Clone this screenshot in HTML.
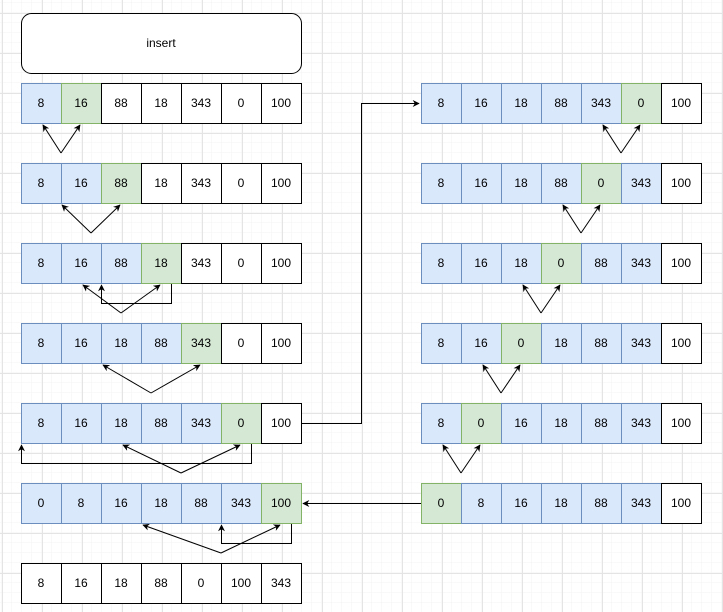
<!DOCTYPE html>
<html><head><meta charset="utf-8"><style>
html,body{margin:0;padding:0;background:#fff;}
svg{display:block;}
text{font-family:"Liberation Sans",Arial,sans-serif;font-size:12px;fill:#000;}
</style></head><body>
<svg width="723" height="612" viewBox="0 0 723 612" xmlns="http://www.w3.org/2000/svg">
<defs>
<pattern id="g1" x="2" y="3" width="10" height="10" patternUnits="userSpaceOnUse"><path d="M10 0V10M0 10H10" stroke="#f3f3f3" stroke-width="1" fill="none"/></pattern>
<pattern id="g2" x="2" y="13" width="40" height="40" patternUnits="userSpaceOnUse"><path d="M0.5 0V40M0 0.5H40" stroke="#e4e4e4" stroke-width="1" fill="none"/></pattern>
<marker id="a" viewBox="0 0 10 10" refX="9" refY="5" markerWidth="7" markerHeight="7" orient="auto"><path d="M0 0L10 5L0 10L3 5Z" fill="#000"/></marker>
</defs>
<rect width="723" height="612" fill="url(#g1)"/>
<rect width="723" height="612" fill="url(#g2)"/>
<rect x="21.5" y="13.5" width="280" height="60" rx="10" fill="#fff" stroke="#000"/>
<text x="161" y="47" text-anchor="middle">insert</text>
<g id="cells" stroke-width="1"></g>
<g fill="none" stroke="#000" stroke-width="1">
<!-- left -->
<path d="M61 153L43 125" marker-end="url(#a)"/><path d="M61 153L80 125" marker-end="url(#a)"/>
<path d="M91 233L62 205" marker-end="url(#a)"/><path d="M91 233L120 205" marker-end="url(#a)"/>
<path d="M121 313L83 285" marker-end="url(#a)"/><path d="M121 313L160 285" marker-end="url(#a)"/>
<path d="M171.5 283V303.5H101.5V285" marker-end="url(#a)"/>
<path d="M151 393L103 365" marker-end="url(#a)"/><path d="M151 393L200 365" marker-end="url(#a)"/>
<path d="M181 473L123 445" marker-end="url(#a)"/><path d="M181 473L240 445" marker-end="url(#a)"/>
<path d="M251.5 443V463.5H21.5V445" marker-end="url(#a)"/>
<path d="M221 553L143 525" marker-end="url(#a)"/><path d="M221 553L280 525" marker-end="url(#a)"/>
<path d="M291.5 523V543.5H221.5V525" marker-end="url(#a)"/>
<!-- right -->
<path d="M621 153L603 125" marker-end="url(#a)"/><path d="M621 153L640 125" marker-end="url(#a)"/>
<path d="M581 233L563 205" marker-end="url(#a)"/><path d="M581 233L600 205" marker-end="url(#a)"/>
<path d="M541 313L523 285" marker-end="url(#a)"/><path d="M541 313L560 285" marker-end="url(#a)"/>
<path d="M501 393L483 365" marker-end="url(#a)"/><path d="M501 393L520 365" marker-end="url(#a)"/>
<path d="M461 473L443 445" marker-end="url(#a)"/><path d="M461 473L480 445" marker-end="url(#a)"/>
<!-- connectors -->
<path d="M301 423.5H361.5V103.5H419" marker-end="url(#a)"/>
<path d="M421 503.5H303" marker-end="url(#a)"/>
</g>
<g id="c">
<!-- L1 -->
<rect x="21.5" y="83.5" width="40" height="40" fill="#dae8fc" stroke="#6c8ebf"/><text x="41" y="107" text-anchor="middle">8</text>
<rect x="61.5" y="83.5" width="40" height="40" fill="#d5e8d4" stroke="#82b366"/><text x="81" y="107" text-anchor="middle">16</text>
<rect x="101.5" y="83.5" width="40" height="40" fill="#fff" stroke="#000"/><text x="121" y="107" text-anchor="middle">88</text>
<rect x="141.5" y="83.5" width="40" height="40" fill="#fff" stroke="#000"/><text x="161" y="107" text-anchor="middle">18</text>
<rect x="181.5" y="83.5" width="40" height="40" fill="#fff" stroke="#000"/><text x="201" y="107" text-anchor="middle">343</text>
<rect x="221.5" y="83.5" width="40" height="40" fill="#fff" stroke="#000"/><text x="241" y="107" text-anchor="middle">0</text>
<rect x="261.5" y="83.5" width="40" height="40" fill="#fff" stroke="#000"/><text x="281" y="107" text-anchor="middle">100</text>
<!-- L2 -->
<rect x="21.5" y="163.5" width="40" height="40" fill="#dae8fc" stroke="#6c8ebf"/><text x="41" y="187" text-anchor="middle">8</text>
<rect x="61.5" y="163.5" width="40" height="40" fill="#dae8fc" stroke="#6c8ebf"/><text x="81" y="187" text-anchor="middle">16</text>
<rect x="101.5" y="163.5" width="40" height="40" fill="#d5e8d4" stroke="#82b366"/><text x="121" y="187" text-anchor="middle">88</text>
<rect x="141.5" y="163.5" width="40" height="40" fill="#fff" stroke="#000"/><text x="161" y="187" text-anchor="middle">18</text>
<rect x="181.5" y="163.5" width="40" height="40" fill="#fff" stroke="#000"/><text x="201" y="187" text-anchor="middle">343</text>
<rect x="221.5" y="163.5" width="40" height="40" fill="#fff" stroke="#000"/><text x="241" y="187" text-anchor="middle">0</text>
<rect x="261.5" y="163.5" width="40" height="40" fill="#fff" stroke="#000"/><text x="281" y="187" text-anchor="middle">100</text>
<!-- L3 -->
<rect x="21.5" y="243.5" width="40" height="40" fill="#dae8fc" stroke="#6c8ebf"/><text x="41" y="267" text-anchor="middle">8</text>
<rect x="61.5" y="243.5" width="40" height="40" fill="#dae8fc" stroke="#6c8ebf"/><text x="81" y="267" text-anchor="middle">16</text>
<rect x="101.5" y="243.5" width="40" height="40" fill="#dae8fc" stroke="#6c8ebf"/><text x="121" y="267" text-anchor="middle">88</text>
<rect x="141.5" y="243.5" width="40" height="40" fill="#d5e8d4" stroke="#82b366"/><text x="161" y="267" text-anchor="middle">18</text>
<rect x="181.5" y="243.5" width="40" height="40" fill="#fff" stroke="#000"/><text x="201" y="267" text-anchor="middle">343</text>
<rect x="221.5" y="243.5" width="40" height="40" fill="#fff" stroke="#000"/><text x="241" y="267" text-anchor="middle">0</text>
<rect x="261.5" y="243.5" width="40" height="40" fill="#fff" stroke="#000"/><text x="281" y="267" text-anchor="middle">100</text>
<!-- L4 -->
<rect x="21.5" y="323.5" width="40" height="40" fill="#dae8fc" stroke="#6c8ebf"/><text x="41" y="347" text-anchor="middle">8</text>
<rect x="61.5" y="323.5" width="40" height="40" fill="#dae8fc" stroke="#6c8ebf"/><text x="81" y="347" text-anchor="middle">16</text>
<rect x="101.5" y="323.5" width="40" height="40" fill="#dae8fc" stroke="#6c8ebf"/><text x="121" y="347" text-anchor="middle">18</text>
<rect x="141.5" y="323.5" width="40" height="40" fill="#dae8fc" stroke="#6c8ebf"/><text x="161" y="347" text-anchor="middle">88</text>
<rect x="181.5" y="323.5" width="40" height="40" fill="#d5e8d4" stroke="#82b366"/><text x="201" y="347" text-anchor="middle">343</text>
<rect x="221.5" y="323.5" width="40" height="40" fill="#fff" stroke="#000"/><text x="241" y="347" text-anchor="middle">0</text>
<rect x="261.5" y="323.5" width="40" height="40" fill="#fff" stroke="#000"/><text x="281" y="347" text-anchor="middle">100</text>
<!-- L5 -->
<rect x="21.5" y="403.5" width="40" height="40" fill="#dae8fc" stroke="#6c8ebf"/><text x="41" y="427" text-anchor="middle">8</text>
<rect x="61.5" y="403.5" width="40" height="40" fill="#dae8fc" stroke="#6c8ebf"/><text x="81" y="427" text-anchor="middle">16</text>
<rect x="101.5" y="403.5" width="40" height="40" fill="#dae8fc" stroke="#6c8ebf"/><text x="121" y="427" text-anchor="middle">18</text>
<rect x="141.5" y="403.5" width="40" height="40" fill="#dae8fc" stroke="#6c8ebf"/><text x="161" y="427" text-anchor="middle">88</text>
<rect x="181.5" y="403.5" width="40" height="40" fill="#dae8fc" stroke="#6c8ebf"/><text x="201" y="427" text-anchor="middle">343</text>
<rect x="221.5" y="403.5" width="40" height="40" fill="#d5e8d4" stroke="#82b366"/><text x="241" y="427" text-anchor="middle">0</text>
<rect x="261.5" y="403.5" width="40" height="40" fill="#fff" stroke="#000"/><text x="281" y="427" text-anchor="middle">100</text>
<!-- L6 -->
<rect x="21.5" y="483.5" width="40" height="40" fill="#dae8fc" stroke="#6c8ebf"/><text x="41" y="507" text-anchor="middle">0</text>
<rect x="61.5" y="483.5" width="40" height="40" fill="#dae8fc" stroke="#6c8ebf"/><text x="81" y="507" text-anchor="middle">8</text>
<rect x="101.5" y="483.5" width="40" height="40" fill="#dae8fc" stroke="#6c8ebf"/><text x="121" y="507" text-anchor="middle">16</text>
<rect x="141.5" y="483.5" width="40" height="40" fill="#dae8fc" stroke="#6c8ebf"/><text x="161" y="507" text-anchor="middle">18</text>
<rect x="181.5" y="483.5" width="40" height="40" fill="#dae8fc" stroke="#6c8ebf"/><text x="201" y="507" text-anchor="middle">88</text>
<rect x="221.5" y="483.5" width="40" height="40" fill="#dae8fc" stroke="#6c8ebf"/><text x="241" y="507" text-anchor="middle">343</text>
<rect x="261.5" y="483.5" width="40" height="40" fill="#d5e8d4" stroke="#82b366"/><text x="281" y="507" text-anchor="middle">100</text>
<!-- L7 -->
<rect x="21.5" y="563.5" width="40" height="40" fill="#fff" stroke="#000"/><text x="41" y="587" text-anchor="middle">8</text>
<rect x="61.5" y="563.5" width="40" height="40" fill="#fff" stroke="#000"/><text x="81" y="587" text-anchor="middle">16</text>
<rect x="101.5" y="563.5" width="40" height="40" fill="#fff" stroke="#000"/><text x="121" y="587" text-anchor="middle">18</text>
<rect x="141.5" y="563.5" width="40" height="40" fill="#fff" stroke="#000"/><text x="161" y="587" text-anchor="middle">88</text>
<rect x="181.5" y="563.5" width="40" height="40" fill="#fff" stroke="#000"/><text x="201" y="587" text-anchor="middle">0</text>
<rect x="221.5" y="563.5" width="40" height="40" fill="#fff" stroke="#000"/><text x="241" y="587" text-anchor="middle">100</text>
<rect x="261.5" y="563.5" width="40" height="40" fill="#fff" stroke="#000"/><text x="281" y="587" text-anchor="middle">343</text>
<!-- R1 -->
<rect x="421.5" y="83.5" width="40" height="40" fill="#dae8fc" stroke="#6c8ebf"/><text x="441" y="107" text-anchor="middle">8</text>
<rect x="461.5" y="83.5" width="40" height="40" fill="#dae8fc" stroke="#6c8ebf"/><text x="481" y="107" text-anchor="middle">16</text>
<rect x="501.5" y="83.5" width="40" height="40" fill="#dae8fc" stroke="#6c8ebf"/><text x="521" y="107" text-anchor="middle">18</text>
<rect x="541.5" y="83.5" width="40" height="40" fill="#dae8fc" stroke="#6c8ebf"/><text x="561" y="107" text-anchor="middle">88</text>
<rect x="581.5" y="83.5" width="40" height="40" fill="#dae8fc" stroke="#6c8ebf"/><text x="601" y="107" text-anchor="middle">343</text>
<rect x="621.5" y="83.5" width="40" height="40" fill="#d5e8d4" stroke="#82b366"/><text x="641" y="107" text-anchor="middle">0</text>
<rect x="661.5" y="83.5" width="40" height="40" fill="#fff" stroke="#000"/><text x="681" y="107" text-anchor="middle">100</text>
<!-- R2 -->
<rect x="421.5" y="163.5" width="40" height="40" fill="#dae8fc" stroke="#6c8ebf"/><text x="441" y="187" text-anchor="middle">8</text>
<rect x="461.5" y="163.5" width="40" height="40" fill="#dae8fc" stroke="#6c8ebf"/><text x="481" y="187" text-anchor="middle">16</text>
<rect x="501.5" y="163.5" width="40" height="40" fill="#dae8fc" stroke="#6c8ebf"/><text x="521" y="187" text-anchor="middle">18</text>
<rect x="541.5" y="163.5" width="40" height="40" fill="#dae8fc" stroke="#6c8ebf"/><text x="561" y="187" text-anchor="middle">88</text>
<rect x="581.5" y="163.5" width="40" height="40" fill="#d5e8d4" stroke="#82b366"/><text x="601" y="187" text-anchor="middle">0</text>
<rect x="621.5" y="163.5" width="40" height="40" fill="#dae8fc" stroke="#6c8ebf"/><text x="641" y="187" text-anchor="middle">343</text>
<rect x="661.5" y="163.5" width="40" height="40" fill="#fff" stroke="#000"/><text x="681" y="187" text-anchor="middle">100</text>
<!-- R3 -->
<rect x="421.5" y="243.5" width="40" height="40" fill="#dae8fc" stroke="#6c8ebf"/><text x="441" y="267" text-anchor="middle">8</text>
<rect x="461.5" y="243.5" width="40" height="40" fill="#dae8fc" stroke="#6c8ebf"/><text x="481" y="267" text-anchor="middle">16</text>
<rect x="501.5" y="243.5" width="40" height="40" fill="#dae8fc" stroke="#6c8ebf"/><text x="521" y="267" text-anchor="middle">18</text>
<rect x="541.5" y="243.5" width="40" height="40" fill="#d5e8d4" stroke="#82b366"/><text x="561" y="267" text-anchor="middle">0</text>
<rect x="581.5" y="243.5" width="40" height="40" fill="#dae8fc" stroke="#6c8ebf"/><text x="601" y="267" text-anchor="middle">88</text>
<rect x="621.5" y="243.5" width="40" height="40" fill="#dae8fc" stroke="#6c8ebf"/><text x="641" y="267" text-anchor="middle">343</text>
<rect x="661.5" y="243.5" width="40" height="40" fill="#fff" stroke="#000"/><text x="681" y="267" text-anchor="middle">100</text>
<!-- R4 -->
<rect x="421.5" y="323.5" width="40" height="40" fill="#dae8fc" stroke="#6c8ebf"/><text x="441" y="347" text-anchor="middle">8</text>
<rect x="461.5" y="323.5" width="40" height="40" fill="#dae8fc" stroke="#6c8ebf"/><text x="481" y="347" text-anchor="middle">16</text>
<rect x="501.5" y="323.5" width="40" height="40" fill="#d5e8d4" stroke="#82b366"/><text x="521" y="347" text-anchor="middle">0</text>
<rect x="541.5" y="323.5" width="40" height="40" fill="#dae8fc" stroke="#6c8ebf"/><text x="561" y="347" text-anchor="middle">18</text>
<rect x="581.5" y="323.5" width="40" height="40" fill="#dae8fc" stroke="#6c8ebf"/><text x="601" y="347" text-anchor="middle">88</text>
<rect x="621.5" y="323.5" width="40" height="40" fill="#dae8fc" stroke="#6c8ebf"/><text x="641" y="347" text-anchor="middle">343</text>
<rect x="661.5" y="323.5" width="40" height="40" fill="#fff" stroke="#000"/><text x="681" y="347" text-anchor="middle">100</text>
<!-- R5 -->
<rect x="421.5" y="403.5" width="40" height="40" fill="#dae8fc" stroke="#6c8ebf"/><text x="441" y="427" text-anchor="middle">8</text>
<rect x="461.5" y="403.5" width="40" height="40" fill="#d5e8d4" stroke="#82b366"/><text x="481" y="427" text-anchor="middle">0</text>
<rect x="501.5" y="403.5" width="40" height="40" fill="#dae8fc" stroke="#6c8ebf"/><text x="521" y="427" text-anchor="middle">16</text>
<rect x="541.5" y="403.5" width="40" height="40" fill="#dae8fc" stroke="#6c8ebf"/><text x="561" y="427" text-anchor="middle">18</text>
<rect x="581.5" y="403.5" width="40" height="40" fill="#dae8fc" stroke="#6c8ebf"/><text x="601" y="427" text-anchor="middle">88</text>
<rect x="621.5" y="403.5" width="40" height="40" fill="#dae8fc" stroke="#6c8ebf"/><text x="641" y="427" text-anchor="middle">343</text>
<rect x="661.5" y="403.5" width="40" height="40" fill="#fff" stroke="#000"/><text x="681" y="427" text-anchor="middle">100</text>
<!-- R6 -->
<rect x="421.5" y="483.5" width="40" height="40" fill="#d5e8d4" stroke="#82b366"/><text x="441" y="507" text-anchor="middle">0</text>
<rect x="461.5" y="483.5" width="40" height="40" fill="#dae8fc" stroke="#6c8ebf"/><text x="481" y="507" text-anchor="middle">8</text>
<rect x="501.5" y="483.5" width="40" height="40" fill="#dae8fc" stroke="#6c8ebf"/><text x="521" y="507" text-anchor="middle">16</text>
<rect x="541.5" y="483.5" width="40" height="40" fill="#dae8fc" stroke="#6c8ebf"/><text x="561" y="507" text-anchor="middle">18</text>
<rect x="581.5" y="483.5" width="40" height="40" fill="#dae8fc" stroke="#6c8ebf"/><text x="601" y="507" text-anchor="middle">88</text>
<rect x="621.5" y="483.5" width="40" height="40" fill="#dae8fc" stroke="#6c8ebf"/><text x="641" y="507" text-anchor="middle">343</text>
<rect x="661.5" y="483.5" width="40" height="40" fill="#fff" stroke="#000"/><text x="681" y="507" text-anchor="middle">100</text>
</g>
</svg>
</body></html>
